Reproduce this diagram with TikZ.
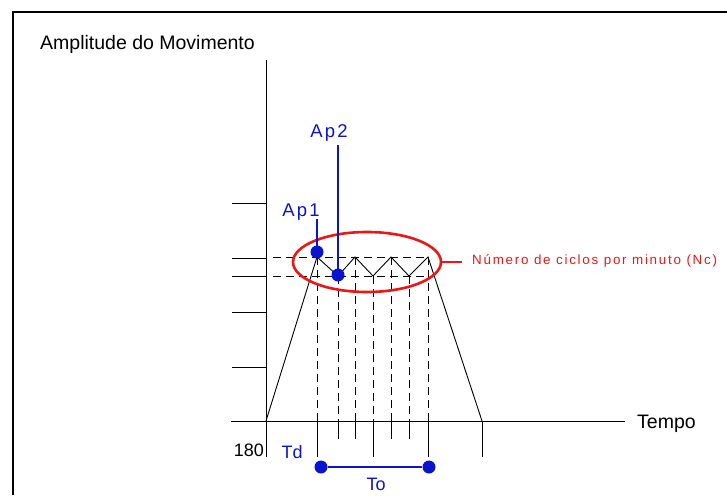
\documentclass[tikz,border=0pt]{standalone}
\usepackage{fontspec}
\setmainfont{Liberation Sans}
\newfontfamily\apfont[LetterSpace=12]{Liberation Sans}
\newfontfamily\ncfont[LetterSpace=13]{Liberation Sans}
\usetikzlibrary{calc,positioning,shapes.geometric}
\definecolor{cBlue}{RGB}{10,20,205}
\definecolor{cRed}{RGB}{236,22,22}

\begin{document}
\begin{tikzpicture}[x=1pt,y=-1pt,
   ln/.style={line width=0.9pt,black},
   dsh/.style={line width=0.9pt,black,dash pattern=on 8pt off 5pt},
   bl/.style={cBlue,line width=2.6pt},
   dot/.style={circle,fill=cBlue,inner sep=0pt,minimum size=13pt},
   lbl/.style={inner sep=0pt,font=\fontsize{19.5}{22}\selectfont},
   blbl/.style={inner sep=0pt,text=cBlue,font=\fontsize{18}{21}\selectfont},
   ap/.style={inner sep=0pt,text=cBlue,font=\fontsize{18.5}{21}\apfont}]
  \useasboundingbox (0,0) rectangle (727,495);
  % moldura
  \draw[line width=2.3pt] (13,495) -- (13,12) -- (727,12);
  % eixos
  \coordinate (ytop) at (266,60);
  \coordinate (ybot) at (266,457);
  \coordinate (xl) at (231,421);
  \coordinate (xr) at (625,421);
  \draw[ln] (ytop) -- (ybot);
  \draw[ln] (xl) -- (xr);
  \node[lbl,anchor=base west] (amp) at (40,49) {Amplitude do Movimento};
  \node[lbl,anchor=base west] (tempo) at (637,428) {Tempo};
  \node[lbl,font=\fontsize{18}{21}\selectfont,anchor=base east] (v180) at (264,456) {180};
  % marcas do eixo y
  \draw[ln] (232,203) -- (266,203);
  \draw[ln] (232,258) -- (266,258);
  \draw[ln] (232,276) -- (266,276);
  \draw[ln] (232,312) -- (266,312);
  \draw[ln] (232,367) -- (266,367);
  % curva
  \coordinate (o)  at (266,421);
  \coordinate (p1) at (317,257);
  \coordinate (p2) at (338,276);
  \coordinate (p3) at (355,257);
  \coordinate (p4) at (373,276);
  \coordinate (p5) at (391,257);
  \coordinate (p6) at (409,276);
  \coordinate (p7) at (428,257);
  \coordinate (e)  at (482,421);
  \draw[ln] (o) -- (p1) -- (p2) -- (p3) -- (p4) -- (p5) -- (p6) -- (p7) -- (e);
  \draw[dsh] (273,257) -- (p7);
  \draw[dsh] (273,276) -- (428,276);
  \foreach \p in {p1,p2,p3,p4,p5,p6,p7}
    \draw[dsh] (\p) -- (\p |- o);
  % marcas do eixo x
  \draw[ln] (p1 |- o) -- ++(0,36);
  \draw[ln] (p2 |- o) -- ++(0,18);
  \draw[ln] (p3 |- o) -- ++(0,18);
  \draw[ln] (p4 |- o) -- ++(0,36);
  \draw[ln] (p5 |- o) -- ++(0,18);
  \draw[ln] (p6 |- o) -- ++(0,18);
  \draw[ln] (p7 |- o) -- ++(0,36);
  \draw[ln] (e) -- ++(0,36);
  % Nc
  \node[draw=cRed,line width=2.6pt,ellipse,minimum width=148pt,minimum height=60pt] (nc) at (367,262) {};
  \node[inner sep=0pt,anchor=base west,text=cRed,font=\fontsize{13.4}{15}\ncfont] (nctxt) at (472,264) {Número de ciclos por minuto (Nc)};
  \coordinate (ncend) at (462,262);
  \draw[cRed,line width=2.6pt] (nc.east) -- (ncend);
  % Ap1, Ap2
  \node[dot] (d1) at (317,252) {};
  \node[dot] (d2) at (338,275) {};
  \node[ap,anchor=base] (ap1) at (301,216) {Ap1};
  \node[ap,anchor=base] (ap2) at (329,137) {Ap2};
  \coordinate (d1top) at (317,219);
  \coordinate (d2top) at (338,145);
  \draw[bl] (d1.center) -- (d1top);
  \draw[bl] (d2.center) -- (d2top);
  % Td, To
  \node[blbl,anchor=base] (td) at (292,458) {Td};
  \node[dot] (t1) at (321,467) {};
  \node[dot] (t2) at (429,467) {};
  \draw[bl] (t1) -- (t2);
  \node[blbl,anchor=base] (to) at (376,490) {To};
\end{tikzpicture}
\end{document}
